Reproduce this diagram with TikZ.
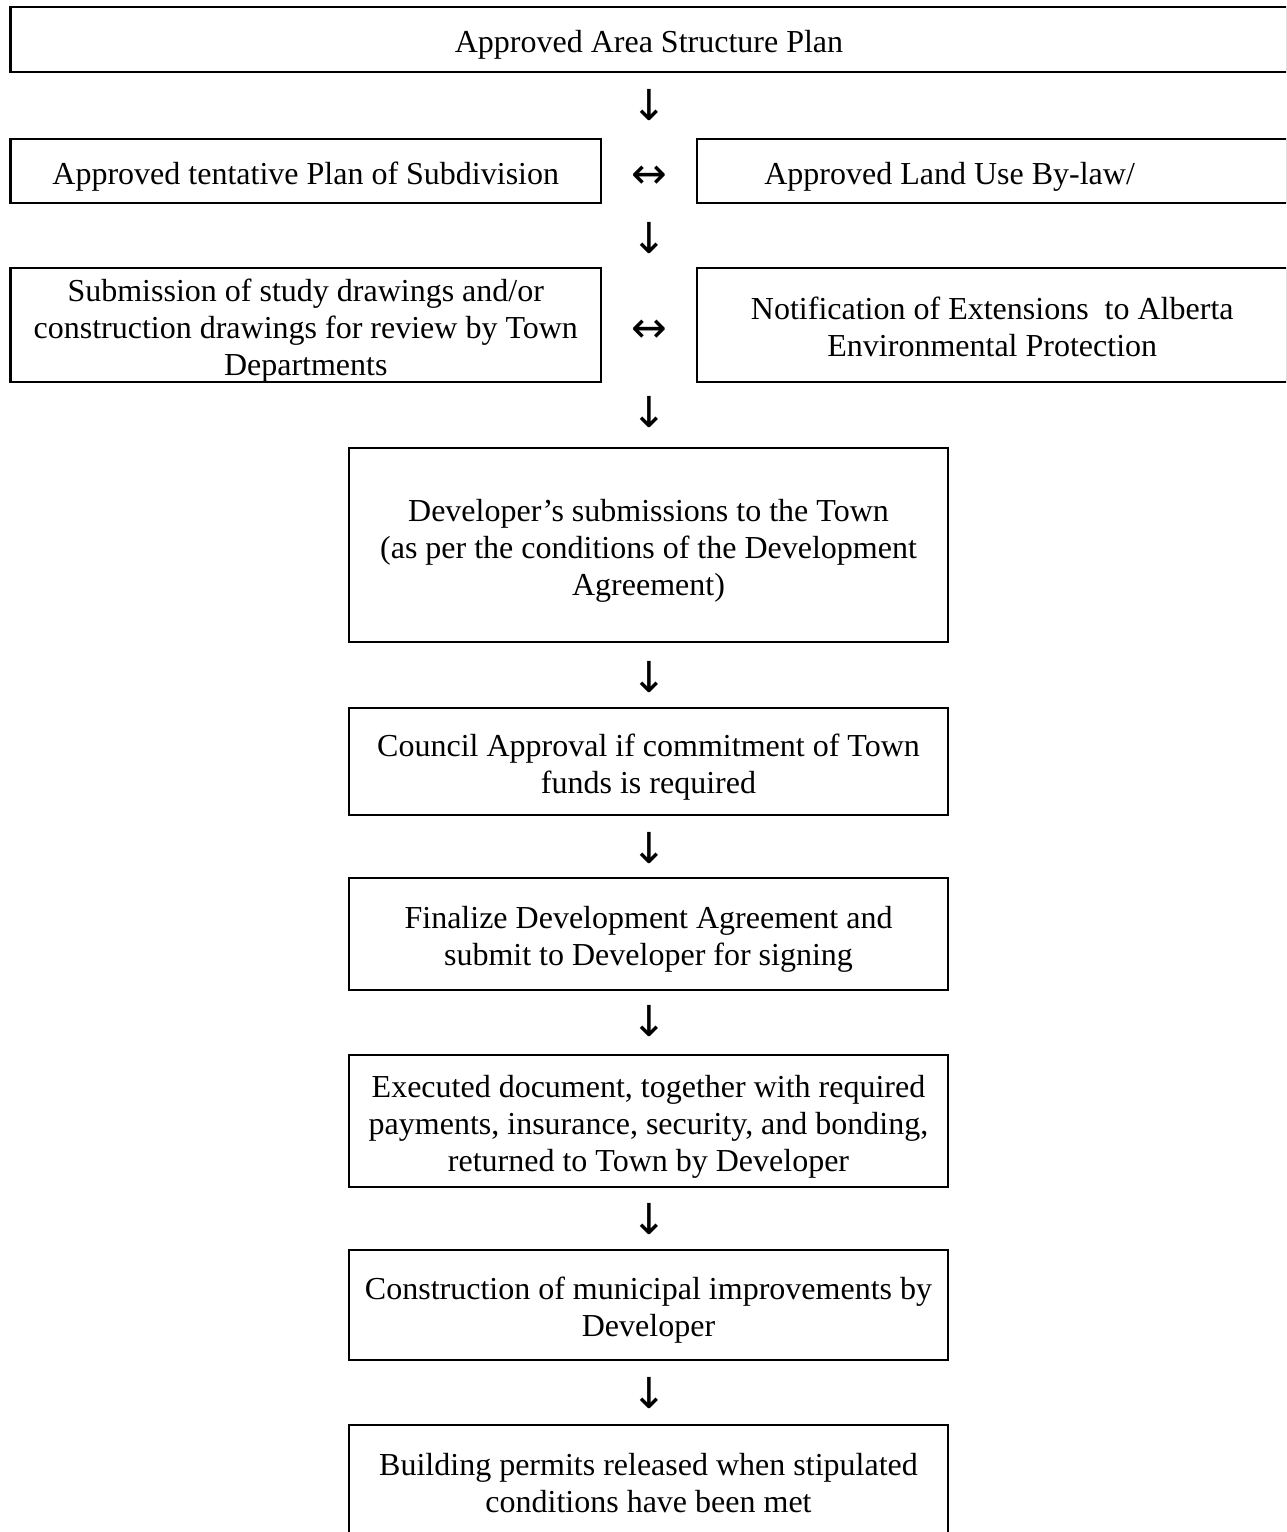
\documentclass[tikz,border=0pt]{standalone}
\usepackage{fontspec}
\setmainfont{Liberation Serif}
\newfontfamily\arrowfont{DejaVu Sans}
\newcommand{\linetop}{\rule{0pt}{12.5pt}}
\usetikzlibrary{positioning}

\begin{document}
\begin{tikzpicture}[x=0.375pt, y=-0.375pt,
  every node/.style={font=\fontsize{12}{13.9}\selectfont},
  stagebox/.style={draw, line width=0.8pt, align=center, inner sep=0pt,
    execute at end node={\rule[-2.6pt]{0pt}{2.6pt}}},
  sidebox/.style={stagebox, minimum width=221.4pt},
  mainbox/.style={stagebox, minimum width=224.6pt},
  glyph/.style={inner sep=0pt, font=\arrowfont\fontsize{16}{16}\selectfont}]
  \clip (0,0) rectangle (1286,1532);
  \node[stagebox, minimum width=478.9pt, minimum height=24.4pt] (plan) at (649,39.5) {\linetop Approved Area Structure Plan};
  \node[sidebox, minimum height=24pt] (subdiv) at (305.75,171) {\linetop Approved tentative Plan of Subdivision};
  \node[sidebox, minimum height=24pt] (bylaw) at (992.25,171) {\linetop Approved Land Use By-law/\hspace*{32pt}};
  \node[sidebox, minimum height=42.75pt] (study) at (305.75,325) {\linetop Submission of study drawings and/or\\construction drawings for review by Town\\Departments};
  \node[sidebox, minimum height=42.75pt] (notify) at (992.25,325) {\linetop Notification of Extensions~ to Alberta\\Environmental Protection};
  \node[mainbox, minimum height=72.75pt] (devsub) at (648.5,545) {\linetop Developer’s submissions to the Town\\(as per the conditions of the Development\\Agreement)};
  \node[mainbox, minimum height=40.1pt] (council) at (648.5,761.5) {\linetop Council Approval if commitment of Town\\funds is required};
  \node[mainbox, minimum height=42pt] (finalize) at (648.5,934) {\linetop Finalize Development Agreement and\\submit to Developer for signing};
  \node[mainbox, minimum height=49.5pt] (execdoc) at (648.5,1121) {\linetop Executed document, together with required\\payments, insurance, security, and bonding,\\returned to Town by Developer};
  \node[mainbox, minimum height=41.25pt] (construct) at (648.5,1305) {\linetop Construction of municipal improvements by\\Developer};
  \node[mainbox, minimum height=42pt] (permits) at (648.5,1481) {\linetop Building permits released when stipulated\\conditions have been met};
  % arrows are typed glyphs between the boxes
  \node[glyph] (d1) at (649,105) {↓};
  \node[glyph] (h1) at (649,177) {↔};
  \node[glyph] (d2) at (649,238) {↓};
  \node[glyph] (h2) at (649,331) {↔};
  \node[glyph] (d3) at (649,412) {↓};
  \node[glyph] (d4) at (649,677) {↓};
  \node[glyph] (d5) at (649,848) {↓};
  \node[glyph] (d6) at (649,1021) {↓};
  \node[glyph] (d7) at (649,1219) {↓};
  \node[glyph] (d8) at (649,1393) {↓};
\end{tikzpicture}
\end{document}
